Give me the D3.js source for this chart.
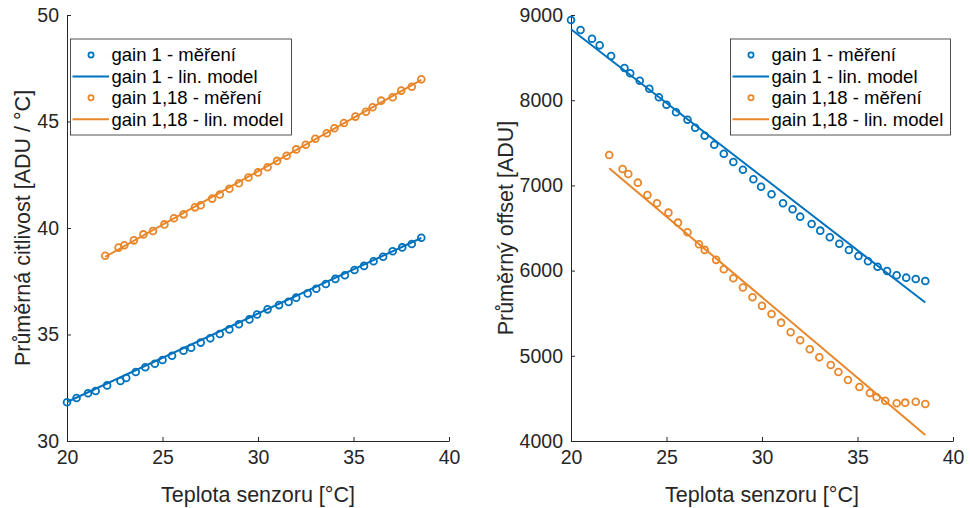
<!DOCTYPE html>
<html>
<head>
<meta charset="utf-8">
<script src="https://cdn.jsdelivr.net/npm/d3@7"></script>
<style>
  html, body { margin: 0; padding: 0; background: #fff; }
  svg { display: block; font-family: "Liberation Sans", Arial, Helvetica, sans-serif; }
</style>
</head>
<body>
<svg id="chart" width="970" height="508"></svg>
<script>
// Sensor temperatures [°C] for each measurement series
const tempGain1 = [20.0, 20.5, 21.1, 21.5, 22.1, 22.8, 23.1, 23.6, 24.1, 24.6, 25.0, 25.5, 26.1, 26.5, 27.0, 27.5, 28.0, 28.5, 29.0, 29.55,
  29.95, 30.5, 31.1, 31.6, 32.0, 32.6, 33.05, 33.55, 34.05, 34.55, 35.05, 35.55, 36.05, 36.55, 37.05, 37.55, 38.05, 38.55];
const tempGain118 = [22.0, 22.7, 23.0, 23.5, 24.0, 24.5, 25.1, 25.6, 26.1, 26.7, 27.0, 27.6, 28.0, 28.5, 29.0, 29.5, 30.0,
  30.5, 31.0, 31.5, 32.0, 32.5, 33.0, 33.6, 34.0, 34.5, 35.1, 35.65, 36.0, 36.45, 37.05, 37.5, 38.05, 38.55];

// Mean sensitivity [ADU / °C]
const sensGain1 = [31.82, 32.02, 32.24, 32.35, 32.61, 32.82, 32.96, 33.24, 33.46, 33.63, 33.80, 34.00, 34.24, 34.38, 34.62, 34.82,
  35.02, 35.24, 35.48, 35.71, 35.94, 36.18, 36.38, 36.53, 36.73, 36.93, 37.15, 37.37, 37.61, 37.78, 38.03, 38.22, 38.44, 38.65,
  38.91, 39.09, 39.25, 39.54];
const sensGain118 = [38.70, 39.08, 39.19, 39.42, 39.70, 39.86, 40.17, 40.46, 40.64, 40.97, 41.07, 41.38, 41.57, 41.84, 42.10,
  42.37, 42.61, 42.85, 43.15, 43.39, 43.69, 43.91, 44.19, 44.45, 44.68, 44.93, 45.23, 45.46, 45.67, 45.98, 46.14, 46.45, 46.63, 46.98];

// Mean offset [ADU]
const offGain1 = [8941, 8824, 8722, 8644, 8519, 8378, 8316, 8229, 8135, 8034, 7947, 7858, 7771, 7677, 7583, 7478, 7372, 7275,
  7184, 7072, 6985, 6896, 6790, 6720, 6633, 6547, 6469, 6391, 6316, 6242, 6172, 6109, 6046, 5996, 5945, 5917, 5901, 5878];
const offGain118 = [7357, 7193, 7134, 7032, 6887, 6790, 6680, 6563, 6450, 6309, 6243, 6126, 6016, 5911, 5801, 5688, 5586, 5491,
  5389, 5276, 5182, 5076, 4982, 4892, 4810, 4716, 4634, 4563, 4513, 4473, 4443, 4450, 4461, 4434];

// Linear model end points
const modelTempGain1 = [20.0, 38.55];
const modelTempGain118 = [22.0, 38.55];
const sensModelGain1 = [31.83, 39.53];
const sensModelGain118 = [38.65, 46.95];
const offModelGain1 = [8832, 5625];
const offModelGain118 = [7201, 4070];

// Axis ticks
const xTicks = [20, 25, 30, 35, 40];
const sensTicks = [30, 35, 40, 45, 50];
const offTicks = [4000, 5000, 6000, 7000, 8000, 9000];

const legendLabels = ["gain 1 - měření", "gain 1 - lin. model", "gain 1,18 - měření", "gain 1,18 - lin. model"];

const BLUE = "#0072BD";
const ORANGE = "#E8862A";
const AXIS = "#262626";

const svg = d3.select("#chart");
svg.append("rect").attr("width", 970).attr("height", 508).attr("fill", "#fff");

function panel(opts) {
  const g = svg.append("g");
  const x = d3.scaleLinear().domain([20, 40]).range([opts.left, opts.left + 382]);
  const y = d3.scaleLinear().domain(opts.yDomain).range([441, 15]);

  const xAxis = d3.axisBottom(x).tickValues(xTicks).tickSizeInner(-4).tickSizeOuter(0).tickPadding(9);
  const yAxis = d3.axisLeft(y).tickValues(opts.yTicks).tickSizeInner(-4).tickSizeOuter(0).tickPadding(8)
    .tickFormat(d3.format("d"));

  const gx = g.append("g").attr("transform", `translate(0,${y.range()[0]})`).call(xAxis);
  const gy = g.append("g").attr("transform", `translate(${opts.left},0)`).call(yAxis);
  [gx, gy].forEach(a => {
    a.select(".domain").attr("stroke", AXIS).attr("stroke-width", 1);
    a.selectAll(".tick line").attr("stroke", AXIS).attr("stroke-width", 1);
    a.selectAll(".tick text").attr("fill", AXIS).style("font-size", "19.5px");
  });

  // Axis titles
  g.append("text")
    .attr("x", opts.left + 191).attr("y", 502)
    .attr("text-anchor", "middle").attr("fill", AXIS).style("font-size", "21.5px")
    .text("Teplota senzoru [°C]");
  g.append("text")
    .attr("transform", `translate(${opts.yLabelX},228) rotate(-90)`)
    .attr("text-anchor", "middle").attr("dy", "0.35em").attr("fill", AXIS).style("font-size", "21.5px")
    .text(opts.yLabel);

  const line = d3.line().x(d => x(d[0])).y(d => y(d[1]));

  // Linear models
  g.append("path").datum(d3.zip(modelTempGain1, opts.model1))
    .attr("d", line).attr("fill", "none").attr("stroke", BLUE).attr("stroke-width", 2);
  g.append("path").datum(d3.zip(modelTempGain118, opts.model118))
    .attr("d", line).attr("fill", "none").attr("stroke", ORANGE).attr("stroke-width", 2);

  // Measurements
  g.append("g").selectAll("circle").data(d3.zip(tempGain1, opts.data1)).join("circle")
    .attr("cx", d => x(d[0])).attr("cy", d => y(d[1])).attr("r", 3.4)
    .attr("fill", "none").attr("stroke", BLUE).attr("stroke-width", 1.8);
  g.append("g").selectAll("circle").data(d3.zip(tempGain118, opts.data118)).join("circle")
    .attr("cx", d => x(d[0])).attr("cy", d => y(d[1])).attr("r", 3.4)
    .attr("fill", "none").attr("stroke", ORANGE).attr("stroke-width", 1.8);

  // Legend
  const lg = g.append("g").attr("transform", `translate(${opts.legendX},${opts.legendY})`);
  lg.append("rect").attr("x", 0.5).attr("y", 0.5).attr("width", opts.legendW).attr("height", 96)
    .attr("fill", "#fff").attr("stroke", AXIS).attr("stroke-width", 0.8);
  legendLabels.forEach((lab, i) => {
    const cy = 16.5 + i * 21.4;
    const col = i < 2 ? BLUE : ORANGE;
    if (i % 2 === 0) {
      lg.append("circle").attr("cx", 21).attr("cy", cy).attr("r", 2.6)
        .attr("fill", "none").attr("stroke", col).attr("stroke-width", 1.7);
    } else {
      lg.append("line").attr("x1", 2.5).attr("x2", 39).attr("y1", cy).attr("y2", cy)
        .attr("stroke", col).attr("stroke-width", 2);
    }
    lg.append("text").attr("x", 41.5).attr("y", cy).attr("dy", "0.35em")
      .attr("fill", "#000").style("font-size", "18.5px").text(lab);
  });
}

panel({
  left: 67, yDomain: [30, 50], yTicks: sensTicks,
  yLabel: "Průměrná citlivost [ADU / °C]", yLabelX: 22,
  data1: sensGain1, data118: sensGain118, model1: sensModelGain1, model118: sensModelGain118,
  legendX: 70, legendY: 38.5, legendW: 221
});
panel({
  left: 571, yDomain: [4000, 9000], yTicks: offTicks,
  yLabel: "Průměrný offset [ADU]", yLabelX: 505,
  data1: offGain1, data118: offGain118, model1: offModelGain1, model118: offModelGain118,
  legendX: 730, legendY: 38.5, legendW: 220
});
</script>
</body>
</html>
